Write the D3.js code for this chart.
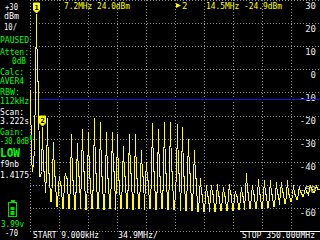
<!DOCTYPE html>
<html>
<head>
<meta charset="utf-8">
<script src="https://cdn.jsdelivr.net/npm/d3@7"></script>
<style>
  body { margin: 0; background: #000; }
  svg { display: block; }
  text { font-family: "DejaVu Sans Mono", monospace; font-size: 9px; }
</style>
</head>
<body>
<div id="chart"></div>
<script>
// sweep settings
var startMHz = 0.009;
var stopMHz = 350;
var points = 290;
var refTop = 30;
var refBottom = -70;
var fundamentalMHz = 7.05;
var triggerLevel = -12.9;

var yTicks = [30, 20, 10, 0, -10, -20, -30, -40, -50, -60];

// level of each harmonic (dBm), n = 1..49
var peakLevels = [24.0, -24.9, -21, -31.5, -46, -45, -28, -32, -25.7, -27,
  -21, -22.6, -27, -27, -28, -33, -28, -28, -35, -40,
  -23.4, -26, -22.6, -23, -23.5, -25, -30, -35, -47, -50,
  -50, -49.6, -51, -49.6, -52.6, -51, -45, -50, -47.5, -48,
  -48, -49, -49, -48, -50, -50.7, -51, -50, -50];
// pedestal next to each spike
var shoulderLevels = [-5, -44, -45, -46, -50, -47, -48, -46, -44, -47,
  -45, -46, -47, -44, -48, -46, -45, -47, -46, -48,
  -44, -46, -45, -44, -45, -46, -45, -47, -54, -55,
  -54, -55, -55, -54, -55, -55, -53, -54, -54, -54,
  -54, -54, -53, -54, -54, -53, -53, -52, -52];
// noise floor between harmonic n and n+1
var floorLevels = [-46, -53, -57, -59, -60, -60, -60.5, -60, -60.5, -60,
  -60, -60.5, -60, -60.5, -60, -60, -60.5, -60, -60.5, -60,
  -60.5, -60, -60.5, -60.5, -61, -61, -61, -61.5, -61.5, -61.5,
  -61.5, -61, -61, -61, -60.5, -60.5, -60, -60, -60, -59.5,
  -59, -58.5, -58, -57, -56, -55, -54, -53, -52];
// first samples before the fundamental
var startLevels = [-9, -38, -44, -40, -35];

var chart_width = 320;
var chart_height = 240;

var svg = d3.select("#chart").append("svg")
  .attr("width", chart_width)
  .attr("height", chart_height);

svg.append("rect").attr("width", chart_width).attr("height", chart_height).attr("fill", "#000");

var x = d3.scaleLinear().domain([startMHz, stopMHz]).range([30, 320]);
var y = d3.scaleLinear().domain([refTop, refBottom]).range([0, 231]);

// grid
var xGrid = d3.range(0, 11).map(function(k) { return startMHz + k * (stopMHz - startMHz) / 10; });
svg.append("g").selectAll("line").data(xGrid).enter().append("line")
  .attr("x1", function(d) { return Math.round(x(d)) + 0.5; })
  .attr("x2", function(d) { return Math.round(x(d)) + 0.5; })
  .attr("y1", 0).attr("y2", 231)
  .attr("stroke", "#8c8c8c").attr("stroke-dasharray", "1,2");
svg.append("g").selectAll("line").data(yTicks.concat([refBottom])).enter().append("line")
  .attr("x1", 30).attr("x2", 320)
  .attr("y1", function(d) { return Math.round(y(d)) + 0.5; })
  .attr("y2", function(d) { return Math.round(y(d)) + 0.5; })
  .attr("stroke", "#8c8c8c").attr("stroke-dasharray", "1,2");

// right hand level labels
svg.append("g").selectAll("text").data(yTicks).enter().append("text")
  .attr("x", 316).attr("y", function(d) { return y(d) + 8.5; })
  .attr("text-anchor", "end").attr("fill", "#e8e8e8")
  .text(function(d) { return d; });

// trigger line
svg.append("line")
  .attr("x1", 30).attr("x2", 320)
  .attr("y1", Math.round(y(triggerLevel)) + 0.5).attr("y2", Math.round(y(triggerLevel)) + 0.5)
  .attr("stroke", "#1010e0");

// build trace from the harmonic tables
var step = (stopMHz - startMHz) / (points - 1);
var trace = [];
for (var i = 0; i < points; i++) trace.push(null);
for (var s = 0; s < startLevels.length; s++) trace[s] = startLevels[s];
var centers = peakLevels.map(function(d, n) { return Math.round((n + 1) * fundamentalMHz / step); });
centers.forEach(function(c, n) {
  var next = n + 1 < centers.length ? centers[n + 1] : points;
  for (var k = c; k < next && k < points; k++) trace[k] = floorLevels[n];
});
centers.forEach(function(c, n) {
  [c - 1, c + 1, c + 2].forEach(function(k) {
    if (k >= 0 && k < points) trace[k] = shoulderLevels[n];
  });
});
centers.forEach(function(c, n) { if (c < points) trace[c] = peakLevels[n]; });

var line = d3.line()
  .x(function(d, i) { return Math.round(x(startMHz + i * step)) + 0.5; })
  .y(function(d) { return Math.round(y(d)) + 0.5; });

svg.append("path").datum(trace)
  .attr("d", line)
  .attr("fill", "none")
  .attr("stroke", "#ffff00")
  .attr("stroke-width", 1)
  .attr("shape-rendering", "crispEdges");

// markers
var markers = [{ n: 1, label: "1" }, { n: 2, label: "2" }];
markers.forEach(function(m) {
  var mx = Math.round(x(startMHz + centers[m.n - 1] * step)) + 0.5;
  var my = Math.round(y(peakLevels[m.n - 1]));
  var g = svg.append("g");
  g.append("path")
    .attr("d", "M" + (mx - 3) + "," + (my - 11) + " h6 v7 l-3,3 l-3,-3 z")
    .attr("fill", "#ffff00").attr("stroke", "#ffff00").attr("stroke-linejoin", "round");
  g.append("text").attr("x", mx).attr("y", my - 4.5)
    .attr("text-anchor", "middle").attr("fill", "#000")
    .style("font-size", "7px").style("font-weight", "bold")
    .text(m.label);
});

// small level tick on the left edge
svg.append("rect").attr("x", 30).attr("y", 135).attr("width", 2).attr("height", 5).attr("fill", "#00e000");

// marker readouts
svg.append("text").attr("x", 64).attr("y", 9).attr("fill", "#ffff00")
  .attr("textLength", 66).attr("lengthAdjust", "spacingAndGlyphs").text("7.2MHz 24.0dBm");
svg.append("path").attr("d", "M176,3 L181,5.5 L176,8 Z").attr("fill", "#ffff00");
svg.append("text").attr("x", 182).attr("y", 9).attr("fill", "#ffff00").text("2");
svg.append("text").attr("x", 206).attr("y", 9).attr("fill", "#ffff00")
  .attr("textLength", 76).attr("lengthAdjust", "spacingAndGlyphs").text("14.5MHz -24.9dBm");

// left status panel
var leftLabels = [
  { t: "+30", x: 5, y: 10, w: 13, c: "#fff" },
  { t: "dBm", x: 4, y: 19, w: 15, c: "#fff" },
  { t: "10/", x: 4, y: 30, w: 13, c: "#fff" },
  { t: "PAUSED", x: 0, y: 43, w: 29, c: "#00ff00" },
  { t: "Atten:", x: 0, y: 55, w: 29, c: "#00ff00" },
  { t: "0dB", x: 12, y: 63.5, w: 14, c: "#00ff00" },
  { t: "Calc:", x: 0, y: 75, w: 24, c: "#00ff00" },
  { t: "AVER4", x: 0, y: 83.5, w: 24, c: "#00ff00" },
  { t: "RBW:", x: 0, y: 95, w: 20, c: "#00ff00" },
  { t: "112kHz", x: 0, y: 103.5, w: 29, c: "#00ff00" },
  { t: "Scan:", x: 0, y: 115, w: 24, c: "#fff" },
  { t: "3.222s", x: 0, y: 124, w: 29, c: "#fff" },
  { t: "Gain:", x: 0, y: 135, w: 24, c: "#00ff00" },
  { t: "-30.0dB", x: 0, y: 143.5, w: 29, c: "#00ff00" },
  { t: "f9nb", x: 0, y: 167, w: 19, c: "#fff" },
  { t: "1.4175", x: 0, y: 178, w: 29, c: "#fff" },
  { t: "3.99v", x: 1, y: 226.5, w: 23, c: "#00ff00", s: 8.5 },
  { t: "-70", x: 5, y: 235.5, w: 13, c: "#fff", s: 8.5 }
];
svg.append("g").selectAll("text").data(leftLabels).enter().append("text")
  .attr("x", function(d) { return d.x; })
  .attr("y", function(d) { return d.y; })
  .attr("fill", function(d) { return d.c; })
  .style("font-size", function(d) { return (d.s || 9) + "px"; })
  .attr("textLength", function(d) { return d.w; })
  .attr("lengthAdjust", "spacingAndGlyphs")
  .text(function(d) { return d.t; });

svg.append("text").attr("x", 0).attr("y", 157).attr("fill", "#00ff00")
  .style("font-size", "12px").style("font-weight", "bold")
  .attr("textLength", 20).attr("lengthAdjust", "spacingAndGlyphs").text("LOW");

// battery
var bat = svg.append("g").attr("fill", "#00dd00");
bat.append("rect").attr("x", 8.5).attr("y", 202.5).attr("width", 8).attr("height", 14)
  .attr("fill", "none").attr("stroke", "#00dd00");
bat.append("rect").attr("x", 11).attr("y", 200).attr("width", 4).attr("height", 2);
bat.append("rect").attr("x", 10.5).attr("y", 207).attr("width", 4).attr("height", 3);
bat.append("rect").attr("x", 10.5).attr("y", 211).attr("width", 4).attr("height", 4);

// bottom line
svg.append("text").attr("x", 33).attr("y", 237.5).attr("fill", "#fff")
  .attr("textLength", 66).attr("lengthAdjust", "spacingAndGlyphs").text("START 9.000kHz");
svg.append("text").attr("x", 118).attr("y", 237.5).attr("fill", "#fff")
  .attr("textLength", 40).attr("lengthAdjust", "spacingAndGlyphs").text("34.9MHz/");
svg.append("line").attr("x1", 240).attr("x2", 320).attr("y1", 231.5).attr("y2", 231.5).attr("stroke", "#fff");
svg.append("text").attr("x", 242).attr("y", 237.5).attr("fill", "#fff")
  .style("font-size", "8.5px")
  .attr("textLength", 73).attr("lengthAdjust", "spacingAndGlyphs").text("STOP 350.000MHz");
</script>
</body>
</html>
